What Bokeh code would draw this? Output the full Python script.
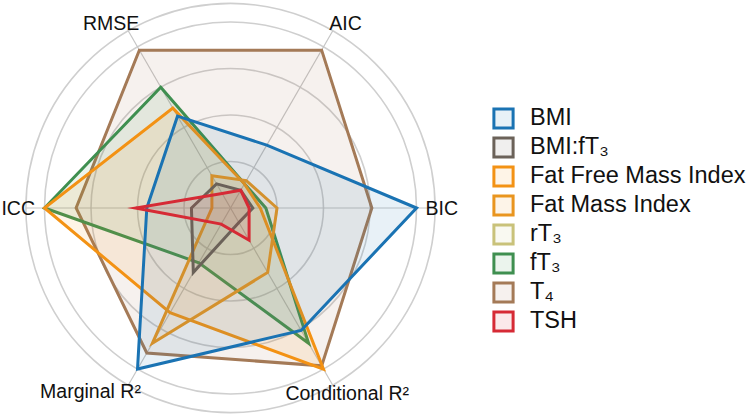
import numpy as np
from bokeh.plotting import figure
from bokeh.models import Range1d, Legend, LegendItem
from bokeh.embed import file_html
from bokeh.resources import INLINE
from bokeh.core.properties import value

# ---------------- data ----------------
metrics = ["BIC", "AIC", "RMSE", "ICC", "Marginal R²", "Conditional R²"]
series_names = ["BMI", "BMI:fT₃", "Fat Free Mass Index", "Fat Mass Index",
                "rT₃", "fT₃", "T₄", "TSH"]
bmi = [1.00, 0.39, 0.57, 0.45, 1.00, 0.76]
bmi_ft3 = [0.12, 0.11, 0.15, 0.21, 0.40, 0.09]
ffmi = [0.16, 0.15, 0.62, 1.00, 0.65, 1.00]
fmi = [0.25, 0.17, 0.20, 0.10, 0.84, 0.40]
rt3 = [0.0, 0.0, 0.0, 0.0, 0.0, 0.0]
ft3 = [0.19, 0.15, 0.75, 1.00, 0.34, 0.84]
t4 = [0.76, 0.98, 0.98, 0.83, 0.90, 0.98]
tsh = [0.10, 0.11, 0.09, 0.51, 0.10, 0.20]
ring_levels = [0.25, 0.50, 0.75, 1.00, 1.10]

series_values = [bmi, bmi_ft3, ffmi, fmi, rt3, ft3, t4, tsh]
colors = ["#1a73b3", "#6b6259", "#f39214", "#e9951f",
          "#c9c27a", "#3f8f50", "#a47a57", "#d62a35"]
draw_order = [6, 4, 5, 2, 3, 0, 1, 7]

# ---------------- geometry ----------------
W, H = 747, 415
CX, CY = 230.0, 207.5      # canvas px of radar centre
UNIT = 186.0               # px per unit value
FONT = "Liberation Sans"

p = figure(width=W, height=H, output_backend="svg", toolbar_location=None,
           x_range=Range1d(-CX / UNIT, (W - CX) / UNIT),
           y_range=Range1d(-(H - CY) / UNIT, CY / UNIT),
           min_border=0, min_border_left=0, min_border_right=0,
           min_border_top=0, min_border_bottom=0)
p.xaxis.visible = False
p.yaxis.visible = False
p.grid.visible = False
p.outline_line_color = None
p.background_fill_color = "white"

n = len(metrics)
angles = np.arange(n) * 2 * np.pi / n

# rings
p.circle(x=[0] * len(ring_levels), y=[0] * len(ring_levels), radius=ring_levels,
         fill_color=None, line_color="#cfcfcf", line_width=1.6)
# spokes
rmax = ring_levels[-1]
p.segment(x0=[0] * n, y0=[0] * n, x1=list(rmax * np.cos(angles)),
          y1=list(rmax * np.sin(angles)), line_color="#c6c6c6", line_width=1.2)

# series
renderers = {}
for i in draw_order:
    vals = np.array(series_values[i], dtype=float)
    xs = list(vals * np.cos(angles))
    ys = list(vals * np.sin(angles))
    r = p.patch(x=xs, y=ys, fill_color=colors[i], fill_alpha=0.1,
                line_color=colors[i], line_width=3, line_join="miter")
    renderers[i] = r

# axis labels (offsets in px from centre, image-down positive)
label_layout = [
    (195.0, 0.0, "left"),
    (115.0, -185.3, "center"),
    (-119.3, -185.3, "center"),
    (-195.5, 0.0, "right"),
    (-140.0, 183.3, "center"),
    (116.7, 184.5, "center"),
]
for name, (dx, dy, al) in zip(metrics, label_layout):
    p.text(x=[dx / UNIT], y=[-dy / UNIT], text=[name], text_align=al,
           text_baseline="middle", text_font=value(FONT),
           text_font_size="19.5px", text_color="#111111")

legend = Legend(
    items=[LegendItem(label=series_names[i], renderers=[renderers[i]])
           for i in range(len(series_names))],
    location=(491, 81), glyph_width=24, glyph_height=24, label_height=24,
    spacing=2, padding=0, margin=0, label_standoff=15,
    label_text_font=FONT, label_text_font_size="23.5px",
    label_text_color="#111111", border_line_color=None,
    background_fill_alpha=0.0)
p.add_layout(legend)

open("out.html", "w").write(file_html(p, INLINE))
